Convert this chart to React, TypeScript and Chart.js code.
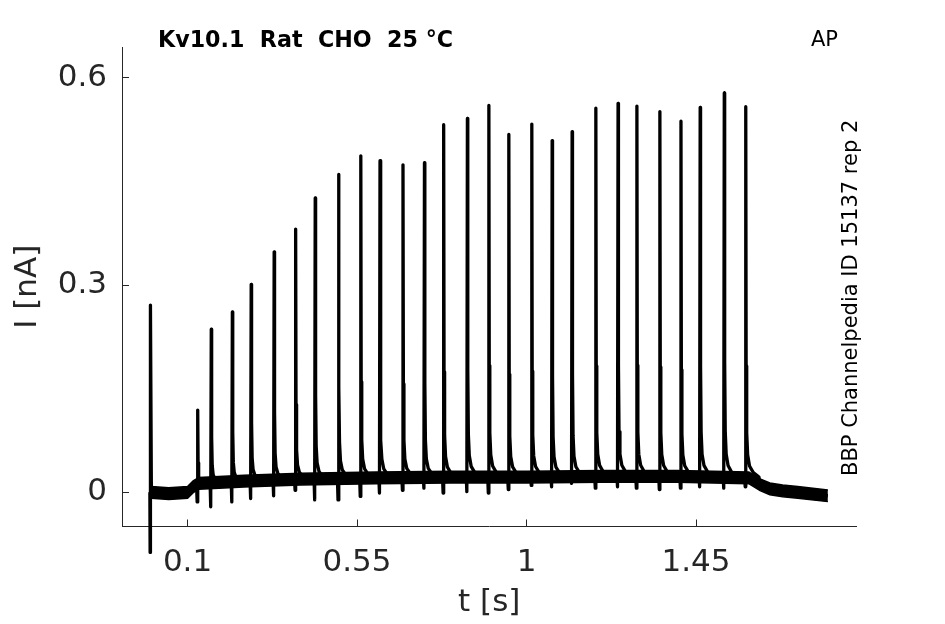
import { useEffect, useRef } from "react"
import { Chart, registerables, type Plugin } from "chart.js"

Chart.register(...registerables)

// stimulus artifact at t = 0 (s, nA)
const artifactTimes = [0, 0.0007, 0.0015, 0.004]
const artifactCurrents = [0, -0.087, 0.271, 0]

// evoked current spikes of the AP train
const spikeTimes = [
  0.127, 0.163, 0.219, 0.269, 0.33, 0.387, 0.439, 0.501, 0.56, 0.611, 0.672, 0.729, 0.78, 0.843,
  0.9, 0.953, 1.014, 1.068, 1.121, 1.184, 1.243, 1.293, 1.354, 1.41, 1.461, 1.525, 1.582,
]
const spikePeaks = [
  0.119, 0.236, 0.261, 0.301, 0.348, 0.381, 0.426, 0.46, 0.487, 0.48, 0.474, 0.477, 0.532, 0.541,
  0.56, 0.518, 0.533, 0.509, 0.522, 0.556, 0.563, 0.559, 0.551, 0.537, 0.557, 0.578, 0.558,
]
const spikeBases = [
  0.01, 0.012, 0.014, 0.016, 0.017, 0.018, 0.018, 0.019, 0.02, 0.02, 0.021, 0.021, 0.021, 0.022,
  0.022, 0.022, 0.022, 0.022, 0.022, 0.023, 0.023, 0.023, 0.023, 0.023, 0.023, 0.022, 0.022,
]
const spikeDips = [
  -0.014, -0.021, -0.014, -0.009, -0.005, 0.003, -0.011, -0.011, -0.006, -0.001, 0.003, 0.006,
  -0.001, 0.001, -0.001, 0.004, 0.01, 0.008, 0.013, 0.006, 0.008, 0.006, 0.004, 0.006, 0.008,
  0.006, 0.008,
]

// decay of each spike back to its base (time after peak, fraction of amplitude left)
const tailOffsets = [0.001, 0.0025, 0.005, 0.01, 0.02, 0.035]
const tailFractions = [0.3, 0.12, 0.06, 0.03, 0.012, 0]

// holding baseline and its noise band
const baselineTimes = [0.004, 0.05, 0.1, 0.115, 0.13, 0.25, 0.4, 0.6, 0.8, 1.0, 1.2, 1.4, 1.59, 1.62, 1.646, 1.68, 1.72, 1.8]
const baselineLevels = [0.0, -0.002, 0.0, 0.008, 0.013, 0.016, 0.019, 0.021, 0.022, 0.022, 0.023, 0.023, 0.021, 0.011, 0.005, 0.002, 0.0, -0.005]
const noiseAmplitude = 0.0085

const xTicks = [0.1, 0.55, 1, 1.45]
const xTickLabels = ["0.1", "0.55", "1", "1.45"]
const yTicks = [0, 0.3, 0.6]
const yTickLabels = ["0", "0.3", "0.6"]

const titleText = "Kv10.1  Rat  CHO  25 °C"
const protocolText = "AP"
const sourceText = "BBP Channelpedia ID 15137 rep 2"

const FONT = "DejaVu Sans"
const AXIS_COLOR = "#262626"

type Pt = { x: number; y: number }

function buildTrace(): Pt[] {
  const pts: Pt[] = artifactTimes.map((t, i) => ({ x: t, y: artifactCurrents[i] }))
  const firstSpike = spikeTimes[0]
  const lastSpike = spikeTimes[spikeTimes.length - 1]
  baselineTimes.forEach((t, i) => {
    if (t > artifactTimes[artifactTimes.length - 1] && t < firstSpike - 0.003) pts.push({ x: t, y: baselineLevels[i] })
  })
  spikeTimes.forEach((t, i) => {
    const base = spikeBases[i]
    const amp = spikePeaks[i] - base
    const next = i + 1 < spikeTimes.length ? spikeTimes[i + 1] - 0.003 : Infinity
    pts.push({ x: t - 0.003, y: base })
    pts.push({ x: t - 0.0015, y: spikeDips[i] })
    pts.push({ x: t, y: spikePeaks[i] })
    tailOffsets.forEach((dt, k) => {
      if (t + dt < next) pts.push({ x: t + dt, y: base + amp * tailFractions[k] })
    })
  })
  baselineTimes.forEach((t, i) => {
    if (t > lastSpike + tailOffsets[tailOffsets.length - 1]) pts.push({ x: t, y: baselineLevels[i] })
  })
  return pts
}

const textPlugin: Plugin<"line"> = {
  id: "figureText",
  afterDraw(chart) {
    const { ctx } = chart
    ctx.save()
    ctx.fillStyle = "#000"
    ctx.textBaseline = "alphabetic"
    ctx.textAlign = "left"
    ctx.font = `bold 22.2px '${FONT}'`
    ctx.fillText(titleText, 158, 47)
    ctx.font = `21px '${FONT}'`
    ctx.fillText(protocolText, 811, 46)
    ctx.translate(857, 476)
    ctx.rotate(-Math.PI / 2)
    ctx.fillText(sourceText, 0, 0)
    ctx.restore()
  },
}

export default function App() {
  const canvasRef = useRef<HTMLCanvasElement>(null)

  useEffect(() => {
    if (!canvasRef.current) return
    const lower = baselineTimes.map((t, i) => ({ x: t, y: baselineLevels[i] - noiseAmplitude }))
    const upper = baselineTimes.map((t, i) => ({ x: t, y: baselineLevels[i] + noiseAmplitude }))
    const grid = {
      display: true,
      drawOnChartArea: false,
      drawTicks: true,
      tickLength: -7,
      color: AXIS_COLOR,
      lineWidth: 1,
    }
    const border = { display: true, color: AXIS_COLOR, width: 1 }

    const chart = new Chart(canvasRef.current, {
      type: "line",
      data: {
        datasets: [
          { data: lower, borderColor: "#000", borderWidth: 1.5, pointRadius: 0, fill: false },
          { data: upper, borderColor: "#000", borderWidth: 1.5, pointRadius: 0, fill: "-1", backgroundColor: "#000" },
          {
            data: buildTrace(),
            borderColor: "#000",
            borderWidth: 3.3,
            borderJoinStyle: "round",
            pointRadius: 0,
            fill: false,
            clip: false,
          },
        ],
      },
      options: {
        responsive: false,
        animation: false,
        layout: { padding: { top: 47, right: 88.5, left: 0, bottom: 0 } },
        plugins: { legend: { display: false }, tooltip: { enabled: false }, title: { display: false } },
        scales: {
          x: {
            type: "linear",
            min: -0.074,
            max: 1.876,
            afterBuildTicks: (s) => {
              s.ticks = xTicks.map((value) => ({ value }))
            },
            afterFit: (s) => {
              s.height = 97.5
            },
            ticks: {
              autoSkip: false,
              maxRotation: 0,
              padding: 25,
              color: AXIS_COLOR,
              font: { family: FONT, size: 31 },
              callback: (v) => xTickLabels[xTicks.indexOf(Number(v))] ?? String(v),
            },
            grid,
            border,
            title: {
              display: true,
              text: "t [s]",
              color: AXIS_COLOR,
              font: { family: FONT, size: 31 },
              padding: { top: 0, bottom: 2 },
            },
          },
          y: {
            type: "linear",
            min: -0.0495,
            max: 0.6445,
            afterBuildTicks: (s) => {
              s.ticks = yTicks.map((value) => ({ value }))
            },
            afterFit: (s) => {
              s.width = 122
            },
            ticks: {
              padding: 22,
              color: AXIS_COLOR,
              font: { family: FONT, size: 31 },
              callback: (v) => yTickLabels[yTicks.indexOf(Number(v))] ?? String(v),
            },
            grid,
            border,
            title: {
              display: true,
              text: "I [nA]",
              color: AXIS_COLOR,
              font: { family: FONT, size: 31 },
              padding: { top: 9, bottom: 0 },
            },
          },
        },
      },
      plugins: [textPlugin],
    })

    return () => {
      chart.destroy()
    }
  }, [])

  return (
    <div style={{ position: "absolute", left: 0, top: 0, width: 945, height: 624, background: "#fff" }}>
      <canvas ref={canvasRef} width={945} height={624} style={{ display: "block" }} />
    </div>
  )
}
